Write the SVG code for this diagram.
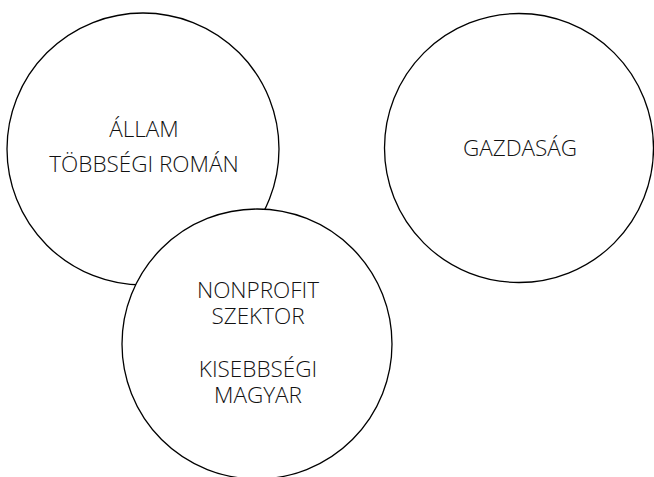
<svg xmlns="http://www.w3.org/2000/svg" width="654" height="477" viewBox="0 0 654 477">
<style>
.c{fill:#fff;stroke:#000;stroke-width:1.3}
.t{font-family:"Open Sans","Noto Sans",sans-serif;font-size:22.5px;font-weight:300;fill:#111;text-anchor:middle}
</style>
<rect width="654" height="477" fill="#fff"/>
<g id="allam">
<circle class="c" cx="143" cy="149" r="136"/>
<text class="t" x="144" y="137">ÁLLAM</text>
<text class="t" x="144" y="172">TÖBBSÉGI ROMÁN</text>
</g>
<g id="gazdasag">
<circle class="c" cx="519" cy="148" r="134.5"/>
<text class="t" x="520" y="156">GAZDASÁG</text>
</g>
<g id="nonprofit">
<circle class="c" cx="257" cy="344" r="135"/>
<text class="t" x="258" y="298">NONPROFIT</text>
<text class="t" x="258" y="324">SZEKTOR</text>
<text class="t" x="258" y="377">KISEBBSÉGI</text>
<text class="t" x="258" y="403">MAGYAR</text>
</g>
<g id="connectors"/>
</svg>
